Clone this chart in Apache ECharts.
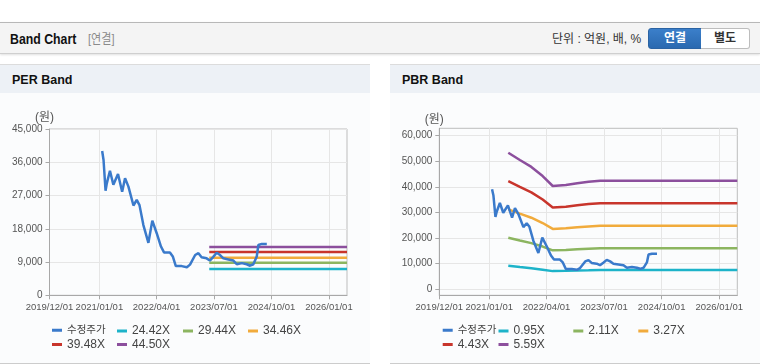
<!DOCTYPE html>
<html>
<head>
<meta charset="utf-8">
<script src="https://cdn.jsdelivr.net/npm/echarts@6/dist/echarts.min.js"></script>
<style>
  html, body { margin:0; padding:0; background:#fff; }
  body { width:760px; height:364px; position:relative; overflow:hidden; font-family:'Liberation Sans','Noto Sans CJK KR',sans-serif; }
  .hdr { position:absolute; left:0; top:22px; width:760px; height:30px; background:#f4f4f4; border-top:1px solid #b8b8b8; border-bottom:1px solid #cfcfcf; box-shadow:0 1px 2px rgba(0,0,0,0.12); }
  .ttl { position:absolute; left:10px; top:30px; font-weight:bold; font-size:15px; color:#111; line-height:18px; transform:scaleX(0.82); transform-origin:0 50%; white-space:nowrap; }
  .sub { position:absolute; left:88px; top:31px; font-size:13px; color:#8a8a8a; line-height:16px; transform:scaleX(0.85); transform-origin:0 50%; white-space:nowrap; }
  .unit { position:absolute; left:552px; top:31px; font-size:12px; color:#333; line-height:16px; white-space:nowrap; }
  .btn1 { position:absolute; left:648px; top:28px; width:52px; height:19px; background:linear-gradient(#3b7fca,#2a69b0); border:1px solid #2b63a3; border-radius:3px 0 0 3px; color:#fff; font-weight:bold; font-size:12px; text-align:center; line-height:19px; }
  .btn2 { position:absolute; left:701px; top:28px; width:48px; height:19px; background:#fff; border:1px solid #bdbdbd; border-left:none; border-radius:0 3px 3px 0; color:#333; font-weight:bold; font-size:12px; text-align:center; line-height:19px; }
  .panel { position:absolute; top:64px; width:370px; height:298px; background:#fbfcfd; border-top:1px solid #dcdcdc; border-bottom:1px solid #cccccc; }
  .pbar { position:absolute; left:0; top:0; width:370px; height:28px; background:#edf1f6; }
  .ptitle { position:absolute; left:12px; top:8px; font-weight:bold; font-size:12.5px; color:#111; line-height:15px; white-space:nowrap; }
  .chart { position:absolute; top:93px; width:370px; height:269px; }
</style>
</head>
<body>
<div class="hdr"></div>
<div class="ttl">Band Chart</div>
<div class="sub">[연결]</div>
<div class="unit">단위 : 억원, 배, %</div>
<div class="btn1">연결</div>
<div class="btn2">별도</div>
<div class="panel" style="left:0"><div class="pbar"><div class="ptitle">PER Band</div></div></div>
<div class="panel" style="left:390px"><div class="pbar"><div class="ptitle">PBR Band</div></div></div>
<div id="c1" class="chart" style="left:0"></div>
<div id="c2" class="chart" style="left:390px"></div>
<script>
// ---------- data ----------
const xTickLabels = ['2019-12-01','2021-01-01','2022-04-01','2023-07-01','2024-10-01','2026-01-01'];
const xMin = '2019-12-01';
const xMax = '2026-05-25';

const priceDates = ['2021-01-23','2021-02-03','2021-02-19','2021-03-01','2021-03-26','2021-04-22','2021-05-29','2021-07-01','2021-07-24','2021-08-20',
  '2021-09-29','2021-10-25','2021-11-16','2021-12-17','2022-01-26','2022-02-26','2022-04-02','2022-05-06','2022-05-30','2022-07-16',
  '2022-08-08','2022-09-01','2022-10-18','2022-11-28','2022-12-23','2023-02-02','2023-02-28','2023-03-25','2023-05-04','2023-05-30',
  '2023-06-26','2023-07-23','2023-08-19','2023-09-14','2023-10-24','2023-12-03','2023-12-30','2024-02-08','2024-03-18','2024-04-14',
  '2024-05-10','2024-05-23','2024-06-06','2024-06-19','2024-07-16','2024-08-25'];
const priceValues = [39050,36600,28300,30300,33700,29900,32800,28000,31700,29400,
  24300,25800,24400,19000,14200,20200,16800,13200,11600,11600,
  10500,7900,7900,7600,8300,10900,11400,10300,10000,9400,
  10400,11500,10900,10000,9700,9400,8400,8700,8400,8000,
  8400,8800,10500,13600,13900,13900];

const perNames = ['24.42X','29.44X','34.46X','39.48X','44.50X'];
const perBandDates = ['2023-05-25','2026-05-25'];
const perBand1 = [7120, 7120];
const perBand2 = [8830, 8830];
const perBand3 = [10170, 10170];
const perBand4 = [11720, 11720];
const perBand5 = [13100, 13100];
const perYTicks = [0, 9000, 18000, 27000, 36000, 45000];

const pbrNames = ['0.95X','2.11X','3.27X','4.43X','5.59X'];
const pbrBandDates = ['2021-06-01','2021-09-01','2021-12-01','2022-03-01','2022-05-20','2022-09-01','2022-12-01','2023-03-01','2023-06-01','2026-05-25'];
const pbrBand1 = [9200, 8700, 8250, 7650, 7100, 7200, 7300, 7400, 7550, 7550];
const pbrBand2 = [20140, 19070, 18040, 16700, 15230, 15380, 15650, 15850, 16010, 16010];
const pbrBand3 = [31200, 29550, 27960, 25890, 23600, 23830, 24250, 24560, 24820, 24820];
const pbrBand4 = [42290, 40040, 37880, 35070, 31980, 32290, 32860, 33280, 33620, 33620];
const pbrBand5 = [53360, 50520, 47800, 44250, 40350, 40740, 41460, 41990, 42420, 42420];
const pbrYTicks = [0, 10000, 20000, 30000, 40000, 50000, 60000];

const priceName = '수정주가';
const colors = ['#3a7acb', '#1db3c9', '#8cb560', '#f1ab3c', '#c8352c', '#8c4f9d'];

// ---------- helpers ----------
const ts = s => { const p = s.split('-').map(Number); return new Date(p[0], p[1] - 1, p[2]).getTime(); };
const zip = (d, v) => d.map((x, i) => [ts(x), v[i]]);
const pad = n => (n < 10 ? '0' : '') + n;
const fmtDate = v => { const d = new Date(v); return d.getFullYear() + '/' + pad(d.getMonth() + 1) + '/' + pad(d.getDate()); };
const fmtNum = v => String(Math.round(v)).replace(/\B(?=(\d{3})+(?!\d))/g, ',');

function hasFont(f) {
  const c = document.createElement('canvas').getContext('2d');
  const t = 'mmmmmmmmmmlli 2019/12/01 45,000';
  c.font = '40px monospace';
  const a = c.measureText(t).width;
  c.font = "40px '" + f + "', monospace";
  return Math.abs(c.measureText(t).width - a) > 0.5;
}
const NARROW = hasFont('Liberation Sans Narrow');
const FONT = NARROW ? "'Liberation Sans Narrow','Noto Sans CJK KR',sans-serif" : "'Liberation Sans','Noto Sans CJK KR',sans-serif";
const XAXIS_FS = NARROW ? 11 : 9.5;
const YAXIS_FS = NARROW ? 11 : 10;
const LEG_FS = NARROW ? 13 : 12;

function buildOption(cfg) {
  const series = [{
    name: priceName, type: 'line', data: zip(priceDates, priceValues),
    showSymbol: false, lineStyle: { width: 2.5, color: colors[0] }, itemStyle: { color: colors[0] }, z: 5
  }];
  cfg.bands.forEach((b, i) => {
    series.push({
      name: cfg.names[i], type: 'line', data: zip(cfg.bandDates, b),
      showSymbol: false, lineStyle: { width: 2.5, color: colors[i + 1] }, itemStyle: { color: colors[i + 1] }, z: 3
    });
  });
  const legendItems = [priceName].concat(cfg.names);
  const legends = legendItems.map((n, i) => ({
    data: [n], left: cfg.legendX[i], top: i < 4 ? 232 : 245.5,
    padding: 0, icon: 'rect', itemWidth: 10, itemHeight: 3, itemGap: 0, selectedMode: false,
    textStyle: { color: '#444', fontFamily: FONT, fontSize: i === 0 ? 10.5 : LEG_FS }
  }));
  const xt = xTickLabels.map(ts);
  return {
    animation: false,
    grid: { left: cfg.gridLeft, top: cfg.gridTop, width: cfg.gridWidth, height: cfg.gridHeight, show: true, borderColor: '#bdbdbd', borderWidth: 1, backgroundColor: 'transparent' },
    xAxis: {
      type: 'value', min: ts(xMin), max: ts(xMax), scale: true,
      axisLine: { onZero: false, lineStyle: { color: '#a8a8a8' } },
      axisTick: { show: true, length: 4, customValues: xt, lineStyle: { color: '#a8a8a8' } },
      axisLabel: { customValues: xt, formatter: fmtDate, color: '#555', fontFamily: FONT, fontSize: XAXIS_FS, margin: 7, hideOverlap: false },
      splitLine: { show: true, lineStyle: { color: '#e6e6e6' } }
    },
    yAxis: {
      type: 'value', min: cfg.yMin, max: cfg.yMax,
      name: '(원)', nameLocation: 'end', nameGap: 3,
      nameTextStyle: { color: '#555', fontSize: 12, fontFamily: FONT, align: 'center', padding: [0, 10, 0, 0] },
      axisLine: { show: true, onZero: false, lineStyle: { color: '#a8a8a8' } },
      axisTick: { show: true, length: 4, customValues: cfg.yTicks, lineStyle: { color: '#a8a8a8' } },
      axisLabel: { customValues: cfg.yTicks, formatter: fmtNum, color: '#555', fontFamily: FONT, fontSize: YAXIS_FS, margin: 7 },
      splitLine: { show: true, lineStyle: { color: '#e6e6e6' } }
    },
    legend: legends,
    series: series
  };
}

const c1 = echarts.init(document.getElementById('c1'), null, { renderer: 'canvas' });
c1.setOption(buildOption({
  names: perNames, bandDates: perBandDates, bands: [perBand1, perBand2, perBand3, perBand4, perBand5],
  yMin: 0, yMax: 45000, yTicks: perYTicks,
  gridLeft: 49.5, gridTop: 36, gridWidth: 297.5, gridHeight: 166.3,
  legendX: [52, 117, 183, 248, 52, 117]
}));
const c2 = echarts.init(document.getElementById('c2'), null, { renderer: 'canvas' });
c2.setOption(buildOption({
  names: pbrNames, bandDates: pbrBandDates, bands: [pbrBand1, pbrBand2, pbrBand3, pbrBand4, pbrBand5],
  yMin: -2344, yMax: 62890, yTicks: pbrYTicks,
  gridLeft: 49.3, gridTop: 35.3, gridWidth: 298, gridHeight: 167,
  legendX: [52.7, 108.5, 183.3, 248.3, 52.7, 108.5]
}));
</script>
</body>
</html>
